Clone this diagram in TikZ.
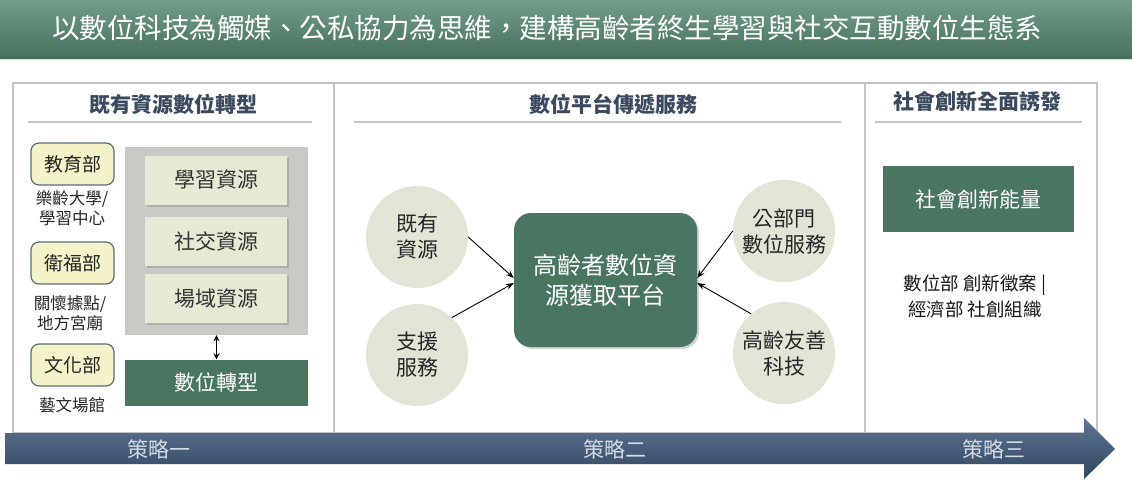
\documentclass[tikz,border=0pt]{standalone}
\usepackage{fontspec}
\setmainfont{Noto Sans CJK TC}
\usetikzlibrary{shadows,arrows.meta}
\definecolor{dkgreen}{HTML}{4A7561}
\definecolor{titletop}{HTML}{729C89}
\definecolor{titlebot}{HTML}{48715D}
\definecolor{headc}{HTML}{3B4A5F}
\definecolor{palebox}{HTML}{E6E9D3}
\definecolor{backg}{HTML}{C9CAC6}
\definecolor{yelbox}{HTML}{F5F3C9}
\definecolor{yelborder}{HTML}{5C6B78}
\definecolor{circfill}{HTML}{E2E5D6}
\definecolor{framec}{HTML}{C2C2C2}
\definecolor{bartop}{HTML}{5F7594}
\definecolor{barbot}{HTML}{32465F}
\definecolor{bartext}{HTML}{D5DCE4}
\tikzset{
  heading/.style={font=\fontsize{21}{25}\selectfont\bfseries, text=headc},
  underl/.style={line width=2.5pt, draw=gray!45},
  palerect/.style={fill=palebox, draw=none, minimum width=142pt, minimum height=49pt,
     font=\fontsize{21}{25}\selectfont, text=black!80, drop shadow={shadow xshift=2pt, shadow yshift=-2pt, opacity=0.35}},
  greenrect/.style={fill=dkgreen, draw=none, text=white, font=\fontsize{21}{25}\selectfont},
  minbox/.style={fill=yelbox, draw=yelborder, line width=1.2pt, rounded corners=8pt,
     minimum width=83pt, minimum height=42pt, font=\fontsize{19}{23}\selectfont, text=black!85},
  smalltxt/.style={font=\fontsize{16.5}{20}\selectfont, align=center, text=black!85},
  circ/.style={circle, fill=circfill, draw=none, minimum size=102pt, inner sep=0pt,
     align=center, font=\fontsize{21}{26}\selectfont, text=black!85},
  arr/.style={-{Stealth[length=8pt,width=6pt]}, line width=0.9pt, black},
  bartxt/.style={font=\fontsize{21}{25}\selectfont, text=bartext},
}
\begin{document}
\begin{tikzpicture}[x=1pt,y=-1pt]
\useasboundingbox (0,0) rectangle (1132,488);
\fill[white] (0,0) rectangle (1132,488);
% title bar
\shade[top color=titletop, bottom color=titlebot] (0,0) rectangle (1132,58);
\draw[gray!25, line width=1pt] (0,59.5) -- (1132,59.5);
\node[text=white, font=\fontsize{27.5}{32}\selectfont] (title) at (547,28)
  {以數位科技為觸媒、公私協力為思維，建構高齡者終生學習與社交互動數位生態系};
% frame
\draw[framec, line width=1.2pt] (13,83) rectangle (1097,433);
\draw[framec, line width=1.2pt] (334,83) -- (334,433);
\draw[framec, line width=1.2pt] (865,83) -- (865,433);
% bottom bar
\shade[top color=bartop, bottom color=barbot]
  (5,433) -- (1084,433) -- (1084,418) -- (1115,449) -- (1084,479) -- (1084,464) -- (5,464) -- cycle;
\node[bartxt] (s1) at (159,449) {策略一};
\node[bartxt] (s2) at (615,449) {策略二};
\node[bartxt] (s3) at (994,449) {策略三};
% headings
\node[heading] (h1) at (173,104) {既有資源數位轉型};
\draw[underl] (28,122) -- (312,122);
\node[heading] (h2) at (613,104) {數位平台傳遞服務};
\draw[underl] (354,122) -- (841,122);
\node[heading] (h3) at (977,101) {社會創新全面誘發};
\draw[underl] (875,122) -- (1082,122);
% left section
\node[fill=backg, draw=none, minimum width=183pt, minimum height=188pt] (bg) at (216.5,241) {};
\node[palerect] (r1) at (216,180) {學習資源};
\node[palerect] (r2) at (216,241) {社交資源};
\node[palerect] (r3) at (216,298.5) {場域資源};
\node[greenrect, minimum width=183pt, minimum height=46pt] (dt) at (216.5,382.5) {數位轉型};
\draw[{Stealth[length=6pt,width=6pt]}-{Stealth[length=6pt,width=6pt]}, line width=1.1pt] (bg.south) -- (dt.north);
\node[minbox] (m1) at (72.5,164) {教育部};
\node[minbox] (m2) at (72.5,263) {衛福部};
\node[minbox] (m3) at (72.5,365) {文化部};
\node[smalltxt] (t1) at (72,208) {樂齡大學/\\學習中心};
\node[smalltxt] (t2) at (70,313) {關懷據點/\\地方宮廟};
\node[smalltxt] (t3) at (72,405) {藝文場館};
% middle section
\node[circ] (c1) at (417,237) {既有\\資源};
\node[circ] (c2) at (417,355) {支援\\服務};
\node[circ] (c3) at (784,231) {公部門\\數位服務};
\node[circ] (c4) at (784,353) {高齡友善\\科技};
\node[fill=dkgreen, draw=none, rounded corners=17pt, minimum width=183pt, minimum height=134pt,
  text=white, align=center, font=\fontsize{24}{30}\selectfont,
  drop shadow={shadow xshift=2pt, shadow yshift=-2pt, opacity=0.35}] (plat) at (605.5,280)
  {高齡者數位資\\源獲取平台};
\draw[arr] (c1.east) -- ([yshift=2pt]plat.west);
\draw[arr] (c2.47) -- ([yshift=-3pt]plat.west);
\draw[arr] (c3.west) -- ([yshift=2pt]plat.east);
\draw[arr] (c4.130) -- ([yshift=-3pt]plat.east);
% right section
\node[greenrect, minimum width=191pt, minimum height=66pt] (sib) at (978.5,199) {社會創新能量};
\node[font=\fontsize{18.5}{26}\selectfont, align=center, text=black!90] (rt) at (975,296)
  {數位部 創新徵案 |\\經濟部 社創組織};
\end{tikzpicture}
\end{document}
